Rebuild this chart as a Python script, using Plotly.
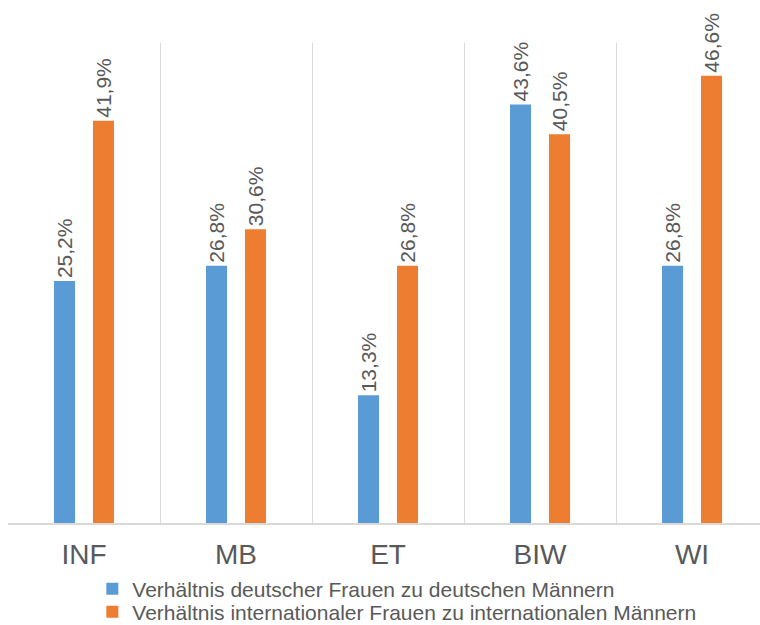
import plotly.graph_objects as go

categories = ["INF", "MB", "ET", "BIW", "WI"]
series_names = [
    "Verhältnis deutscher Frauen zu deutschen Männern",
    "Verhältnis internationaler Frauen zu internationalen Männern",
]
de_values = [25.2, 26.8, 13.3, 43.6, 26.8]
int_values = [41.9, 30.6, 26.8, 40.5, 46.6]
colors = ["#5B9BD5", "#ED7D31"]
text_color = "#595959"
FONT = "Liberation Sans, Arial, sans-serif"

pos = list(range(len(categories)))
boundaries = [p - 0.5 for p in pos] + [pos[-1] + 0.5]

fig = go.Figure()
legend_ids = ["legend", "legend2"]
for name, vals, col, lg in zip(series_names, [de_values, int_values], colors, legend_ids):
    fig.add_trace(go.Bar(
        x=pos, y=vals, name=name, legend=lg,
        marker=dict(color=col, line=dict(width=0)),
        texttemplate="%{y:.1f}%\u00a0", textposition="outside", textangle=-90,
        constraintext="none", cliponaxis=False,
        textfont=dict(family=FONT, size=21, color=text_color),
    ))

leg_common = dict(
    orientation="v", xref="container", yref="container",
    xanchor="left", yanchor="middle",
    font=dict(family=FONT, size=21, color=text_color), itemwidth=30,
    bgcolor="rgba(0,0,0,0)", borderwidth=0,
)

fig.update_layout(
    width=760, height=625,
    margin=dict(l=8, r=0, t=43, b=102, autoexpand=False),
    paper_bgcolor="white", plot_bgcolor="white",
    separators=",.",
    barmode="group", bargap=0.487, bargroupgap=0.46,
    font=dict(family=FONT, color=text_color),
    showlegend=True,
    legend=dict(x=0.1215, y=1 - 589 / 625, **leg_common),
    legend2=dict(x=0.1215, y=1 - 612 / 625, **leg_common),
    xaxis=dict(
        range=[-0.5, 4.447], automargin=False,
        tickmode="array", tickvals=pos, ticktext=categories, tickangle=0,
        ticklabelstandoff=5,
        showgrid=False,
        minor=dict(tickmode="array", tickvals=boundaries, showgrid=True,
                   gridcolor="#D9D9D9", gridwidth=1, ticks=""),
        showline=True, linecolor="#D9D9D9", linewidth=2,
        zeroline=False,
        ticks="", tickfont=dict(family=FONT, size=28, color=text_color),
        fixedrange=True,
    ),
    yaxis=dict(range=[0, 50], visible=False, showgrid=False, zeroline=False, automargin=False),
)

fig.write_html("out.html")
